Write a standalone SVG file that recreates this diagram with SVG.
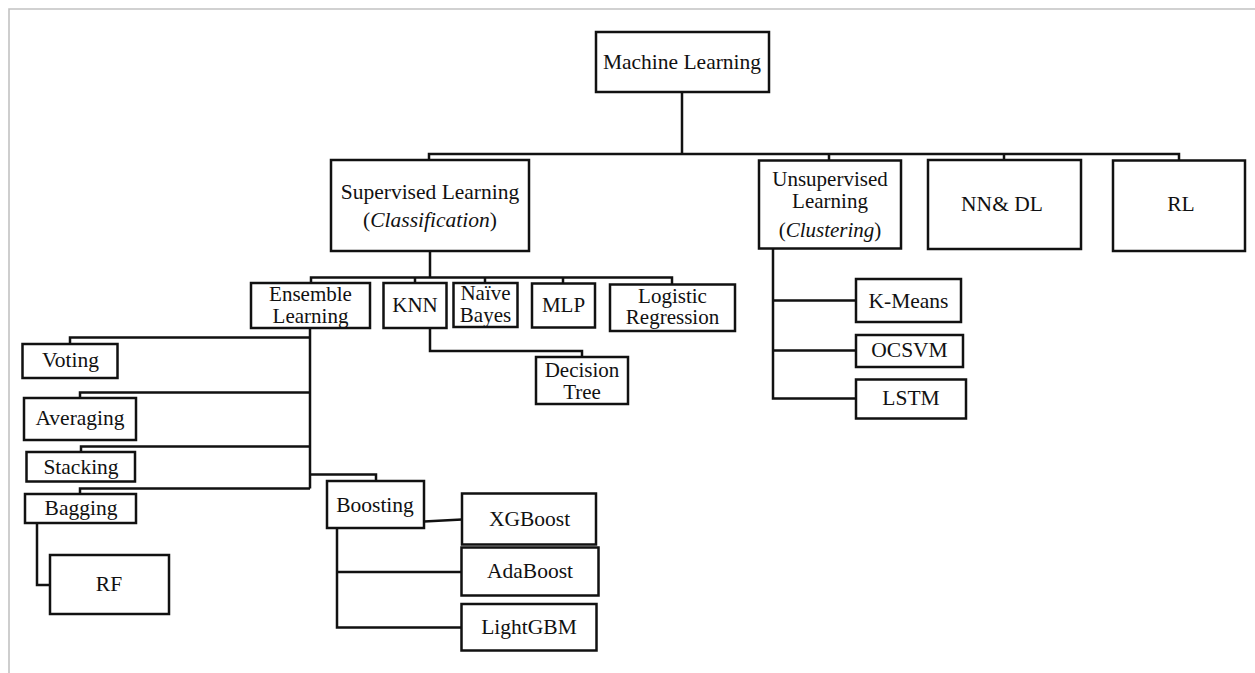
<svg xmlns="http://www.w3.org/2000/svg" width="1255" height="673" viewBox="0 0 1255 673">
<style>
.b{fill:#fff;stroke:#111;stroke-width:2.5}
.t{font-family:"Liberation Serif","Times New Roman",serif;font-size:21px;fill:#111;text-anchor:middle}
.i{font-style:italic}
.c{fill:none;stroke:#111;stroke-width:2.5;stroke-linejoin:miter}
</style>
<rect x="0" y="0" width="1255" height="673" fill="#fff"/>
<path d="M9,673 V9 H1255" fill="none" stroke="#c2c2c2" stroke-width="1.6"/>
<g id="connectors" class="c">
<path d="M682,92 V154 M429,160 V154 H1179 V160 M829,154 V160 M1004,154 V160"/>
<path d="M430,251 V277.5 M311,283 V277.5 H672 V284 M415,277.5 V283 M485,277.5 V283 M563,277.5 V283"/>
<path d="M430,328 V351 H582 V357"/>
<path d="M773,249 V398.5 H856 M773,300.5 H856 M773,350.5 H856"/>
<path d="M310,328 V488.5 M310,337.5 H70 V344 M310,392.5 H80 V398 M310,446.5 H81 V452 M310,474.5 H376 V481 M310,488.5 H80 V494"/>
<path d="M37,523 V585 H50"/>
<path d="M424,521.5 L462,519.5 M337,528 V627.5 H461 M337,572 H461"/>
</g>
<g id="ml"><rect class="b" x="596" y="32" width="173" height="60"/><text class="t" x="682" y="69" style="font-size:21.5px">Machine Learning</text></g>
<g id="supervised"><rect class="b" x="331" y="160" width="198" height="91"/><text class="t" x="430" y="199" style="font-size:21.5px">Supervised Learning</text><text class="t" x="430" y="227" style="font-size:21.5px">(<tspan class="i">Classification</tspan>)</text></g>
<g id="unsupervised"><rect class="b" x="759" y="160.5" width="142" height="88"/><text class="t" x="830" y="185.5">Unsupervised</text><text class="t" x="830" y="208">Learning</text><text class="t" x="830" y="237">(<tspan class="i">Clustering</tspan>)</text></g>
<g id="nndl"><rect class="b" x="928" y="160" width="153" height="89"/><text class="t" x="1002" y="211" style="font-size:21.5px">NN&amp; DL</text></g>
<g id="rl"><rect class="b" x="1113" y="160.5" width="132" height="90.5"/><text class="t" x="1181" y="211" style="font-size:21.5px">RL</text></g>
<g id="ensemble"><rect class="b" x="251" y="283" width="119" height="45"/><text class="t" x="310.5" y="301">Ensemble</text><text class="t" x="310.5" y="322.5">Learning</text></g>
<g id="knn"><rect class="b" x="383.5" y="283" width="63" height="45"/><text class="t" x="415" y="312">KNN</text></g>
<g id="nb"><rect class="b" x="453.5" y="283" width="64" height="44"/><text class="t" x="485.5" y="299.5">Naïve</text><text class="t" x="485.5" y="321.5">Bayes</text></g>
<g id="mlp"><rect class="b" x="532" y="283.5" width="63" height="44"/><text class="t" x="563.5" y="312">MLP</text></g>
<g id="lr"><rect class="b" x="610" y="284.5" width="125" height="46.5"/><text class="t" x="672.5" y="302.5">Logistic</text><text class="t" x="672.5" y="324">Regression</text></g>
<g id="dt"><rect class="b" x="536" y="357" width="92" height="47"/><text class="t" x="582" y="376.5">Decision</text><text class="t" x="582" y="398.5">Tree</text></g>
<g id="kmeans"><rect class="b" x="856" y="279" width="105" height="43"/><text class="t" x="908.5" y="307.5" style="font-size:21.5px">K-Means</text></g>
<g id="ocsvm"><rect class="b" x="856" y="335" width="107" height="32"/><text class="t" x="909.5" y="357" style="font-size:21.5px">OCSVM</text></g>
<g id="lstm"><rect class="b" x="856" y="379.5" width="110" height="39"/><text class="t" x="911" y="405" style="font-size:21.5px">LSTM</text></g>
<g id="voting"><rect class="b" x="22.5" y="344" width="95" height="34"/><text class="t" x="70.5" y="367" style="font-size:21.5px">Voting</text></g>
<g id="averaging"><rect class="b" x="24" y="398" width="112" height="42"/><text class="t" x="80" y="425" style="font-size:21.5px">Averaging</text></g>
<g id="stacking"><rect class="b" x="26.5" y="452" width="108.5" height="29.5"/><text class="t" x="81" y="473.5" style="font-size:21.5px">Stacking</text></g>
<g id="bagging"><rect class="b" x="25" y="494" width="111" height="29"/><text class="t" x="81" y="515" style="font-size:21.5px">Bagging</text></g>
<g id="rf"><rect class="b" x="50" y="555" width="119" height="59"/><text class="t" x="109" y="591" style="font-size:21.5px">RF</text></g>
<g id="boosting"><rect class="b" x="327" y="481" width="97" height="47"/><text class="t" x="375" y="512" style="font-size:21.5px">Boosting</text></g>
<g id="xgboost"><rect class="b" x="462" y="493.5" width="134" height="51"/><text class="t" x="529.5" y="526" style="font-size:21.5px">XGBoost</text></g>
<g id="adaboost"><rect class="b" x="461.5" y="547.5" width="137" height="48" stroke-width="3"/><text class="t" x="530" y="578" style="font-size:21.5px">AdaBoost</text></g>
<g id="lightgbm"><rect class="b" x="461.5" y="604" width="135" height="46.5"/><text class="t" x="529" y="633.5" style="font-size:21.5px">LightGBM</text></g>
</svg>
